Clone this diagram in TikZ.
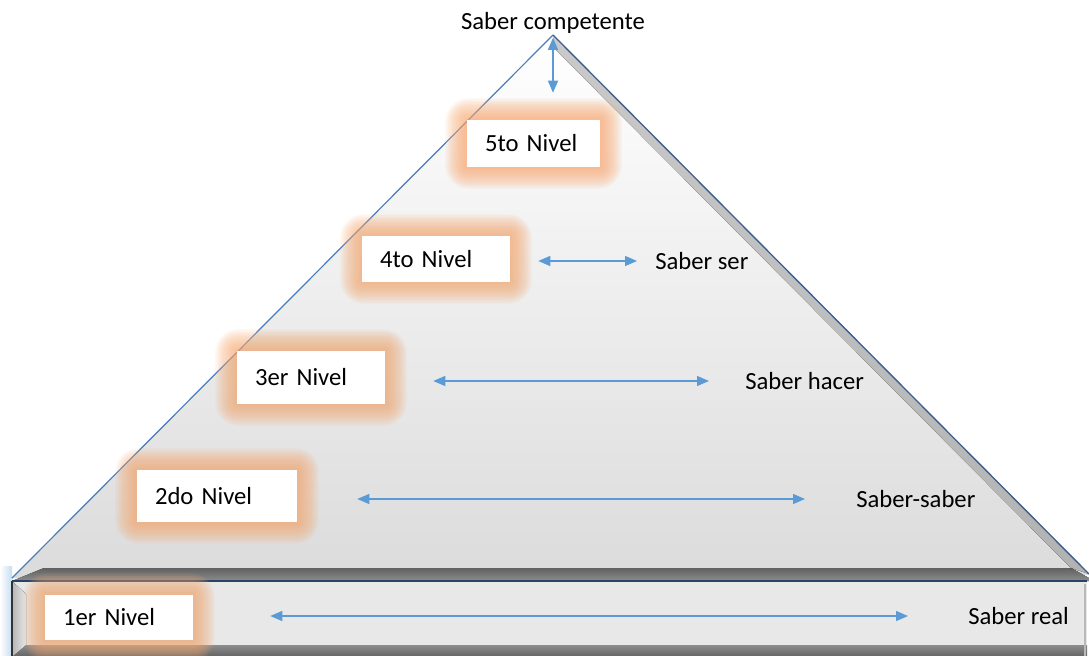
\documentclass[tikz,border=0pt]{standalone}
\usepackage{fontspec}
\setmainfont{Carlito}
\usetikzlibrary{
arrows.meta,
backgrounds,
calc,
positioning
}
\tikzset{>=latex}
\definecolor{edgeblue}{RGB}{74,126,187}
\definecolor{edgedark}{RGB}{60,95,140}
\definecolor{linkblue}{RGB}{91,155,213}
\definecolor{glowor}{RGB}{247,170,115}
\pgfdeclarelayer{glow}
\pgfsetlayers{background,glow,main}
\tikzset{
	nivel/.style={fill=white, inner xsep=13.5pt, inner ysep=0pt, align=left, font=\fontsize{18.5}{22}\selectfont},
	saber/.style={inner sep=0pt, anchor=west, font=\fontsize{18.5}{22}\selectfont},
	link/.style={linkblue, line width=0.9pt, {Triangle[length=9pt,width=7.5pt]}-{Triangle[length=9pt,width=7.5pt]}}
}
% soft orange halo behind a level box
\newcommand{\glowbox}[1]{%
	\begin{pgfonlayer}{glow}
		\foreach \k in {1,...,16}{
			\pgfmathsetmacro{\rad}{\k*1.1}
			\fill[glowor, opacity=0.075, rounded corners=\rad pt] ($(#1.south west)+(-\k*1.35,\k*1.35)$) rectangle ($(#1.north east)+(\k*1.35,-\k*1.35)$);
		}
	\end{pgfonlayer}}

\begin{document}
\begin{tikzpicture}[x=0.75pt, y=-0.75pt]
	\useasboundingbox (0,0) rectangle (1089,656);
	\coordinate (apex) at (553,35);
	\coordinate (bl) at (12,578);
	\coordinate (br) at (1089,574);

	% pyramid and base bar
	\begin{pgfonlayer}{background}
		\fill[left color=white, right color=linkblue!35] (0,566) rectangle (12,656);
		\fill[top color=white, bottom color=gray!28] (apex) -- (br) -- (bl) -- cycle;
		\fill[top color=gray!42, bottom color=gray!60] (apex) -- (br) -- (1071,568) -- (553,47) -- cycle;
		\fill[top color=black!62, bottom color=black!45] (12,581) -- (44,568) -- (1071,568) -- (1089,578) -- (1089,581) -- cycle;
		\fill[gray!18] (12,581) rectangle (1087,656);
		\fill[top color=black!45, bottom color=black!60] (12,645) rectangle (1087,656);
		\fill[left color=gray!55, right color=gray!18] (13,582) -- (26,594) -- (26,645) -- (13,656) -- cycle;
		\draw[gray!55, line width=1.5pt] (1085,584) -- (1085,656);
		\draw[edgedark!70!black, line width=0.8pt] (12,581) -- (1087,581);
		\draw[black!80, line width=1pt] (12,581) -- (12,656);
		\draw[edgeblue, line width=0.9pt] (bl) -- (apex);
		\draw[edgedark, line width=1pt] (apex) -- (br);
	\end{pgfonlayer}

	% levels
	\node[nivel, text width=72.75pt, minimum height=35.25pt] (n5) at (533.5,143.5) {5to Nivel};
	\node[nivel, text width=84pt, minimum height=34.5pt] (n4) at (436,259) {4to Nivel};
	\node[nivel, text width=84pt, minimum height=39.75pt] (n3) at (311,377.5) {3er Nivel};
	\node[nivel, text width=93pt, minimum height=39pt] (n2) at (217,496) {2do Nivel};
	\node[nivel, text width=84pt, minimum height=33.75pt] (n1) at (119,617.5) {1er Nivel};
	\foreach \n in {n1,n2,n3,n4,n5} {\glowbox{\n}}

	% knowledge labels
	\node[saber, anchor=center] (comp) at (553,23) {Saber competente};
	\node[saber] (ser) at (655,261) {Saber ser};
	\node[saber] (hacer) at (745,381) {Saber hacer};
	\node[saber] (sabsab) at (856,499) {Saber-saber};
	\node[saber] (real) at (968,616) {Saber real};

	% arrows
	\draw[link, shorten <=3pt, shorten >=20.25pt] (comp.south) -- (comp.south |- n5.north);
	\draw[link, shorten <=21pt, shorten >=13.5pt] (ser.west -| n4.east) -- (ser.west);
	\draw[link, shorten <=36pt, shorten >=27pt] (hacer.west -| n3.east) -- (hacer.west);
	\draw[link, shorten <=45pt, shorten >=38.25pt] (sabsab.west -| n2.east) -- (sabsab.west);
	\draw[link, shorten <=57.75pt, shorten >=45pt] (real.west -| n1.east) -- (real.west);
\end{tikzpicture}
\end{document}
